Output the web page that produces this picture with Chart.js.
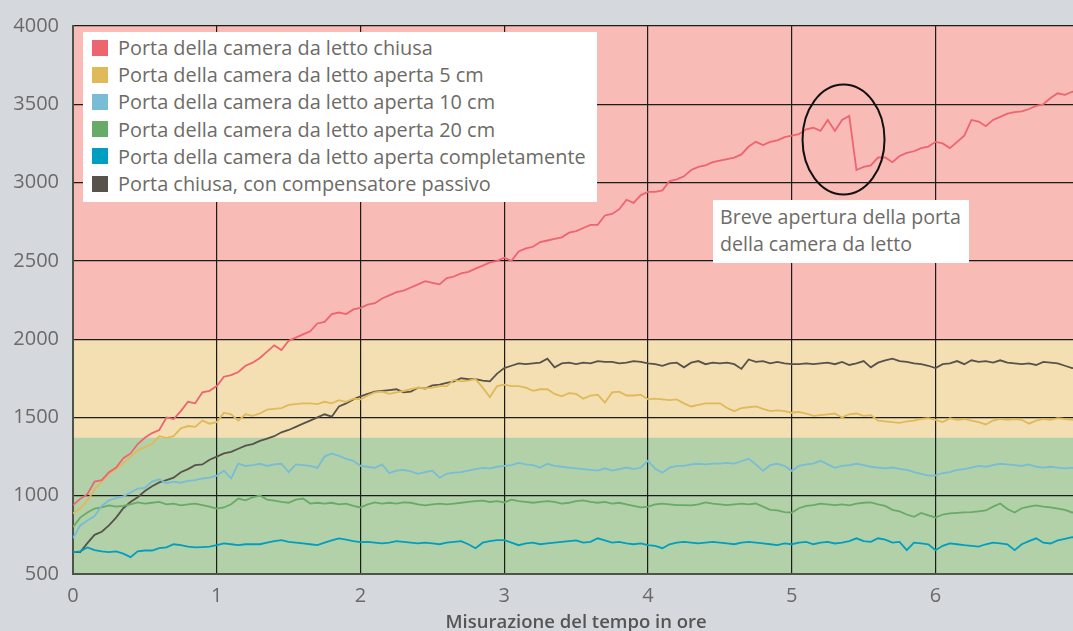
<!DOCTYPE html>
<html>
<head>
<meta charset="utf-8">
<script src="https://cdn.jsdelivr.net/npm/chart.js@4.4.0/dist/chart.umd.min.js"></script>
<style>
  html, body { margin: 0; padding: 0; background: #d5d9dd; overflow: hidden; }
  #wrap { position: relative; width: 1095px; height: 631px; }
  #legend {
    position: absolute; left: 83px; top: 32px; width: 514px; height: 170px;
    background: #fff; box-sizing: border-box; padding: 2px 0 0 9px;
    font-family: 'Open Sans', sans-serif; font-size: 19.9px; color: #6d6b66;
  }
  #legend .item { height: 27.2px; display: flex; align-items: center; white-space: nowrap; }
  #legend .sw { width: 16px; height: 16px; margin-right: 10px; flex: none; }
  #note {
    position: absolute; left: 713px; top: 200px; width: 256px; height: 63px;
    background: #fff; box-sizing: border-box; padding: 3px 0 0 7px;
    font-family: 'Open Sans', sans-serif; font-size: 19.6px; line-height: 27px; color: #6d6b66;
    white-space: nowrap;
  }
</style>
</head>
<body>
<div id="wrap">
  <canvas id="chart" width="1095" height="631"></canvas>
  <div id="legend"></div>
  <div id="note"></div>
</div>
<script>
// time grid, one reading every 3 minutes (0.05 h)
const hours = Array.from({ length: 141 }, (_, i) => +(i * 0.05).toFixed(2));

const seriesLabels = [
  'Porta della camera da letto chiusa',
  'Porta della camera da letto aperta 5 cm',
  'Porta della camera da letto aperta 10 cm',
  'Porta della camera da letto aperta 20 cm',
  'Porta della camera da letto aperta completamente',
  'Porta chiusa, con compensatore passivo'
];
const seriesColors = ['#ec6570', '#e0b95a', '#79bcd6', '#68aa68', '#009ec0', '#57534b'];

const closedDoor = [
  940, 980, 1010, 1090, 1100, 1150, 1180, 1240, 1270, 1330,
  1370, 1400, 1420, 1500, 1490, 1540, 1600, 1590, 1660, 1670,
  1700, 1760, 1770, 1790, 1830, 1850, 1880, 1920, 1960, 1930,
  1990, 2010, 2030, 2050, 2100, 2110, 2160, 2170, 2160, 2190,
  2200, 2220, 2230, 2260, 2280, 2300, 2310, 2330, 2350, 2370,
  2360, 2350, 2390, 2400, 2420, 2430, 2450, 2470, 2490, 2500,
  2520, 2500, 2560, 2580, 2590, 2620, 2630, 2640, 2650, 2680,
  2690, 2710, 2730, 2730, 2790, 2800, 2830, 2890, 2870, 2920,
  2940, 2940, 2950, 3010, 3020, 3040, 3080, 3100, 3110, 3130,
  3140, 3150, 3160, 3180, 3230, 3260, 3240, 3260, 3270, 3290,
  3300, 3310, 3340, 3350, 3330, 3400, 3330, 3400, 3425, 3080,
  3100, 3110, 3160, 3160, 3130, 3170, 3190, 3200, 3220, 3230,
  3260, 3250, 3220, 3260, 3300, 3400, 3390, 3360, 3400, 3420,
  3440, 3450, 3455, 3470, 3490, 3500, 3540, 3570, 3560, 3580,
  3590
];
const open5cm = [
  887, 920, 970, 1040, 1090, 1140, 1170, 1210, 1250, 1290,
  1310, 1330, 1380, 1370, 1380, 1430, 1445, 1440, 1480, 1460,
  1470, 1530, 1520, 1480, 1520, 1510, 1525, 1550, 1555, 1560,
  1580, 1585, 1590, 1590, 1585, 1600, 1590, 1610, 1600, 1620,
  1615, 1640, 1660, 1665, 1650, 1660, 1670, 1680, 1690, 1685,
  1690, 1700, 1700, 1740, 1730, 1735, 1745, 1690, 1630, 1700,
  1710, 1700, 1700, 1690, 1670, 1680, 1680, 1650, 1635, 1655,
  1650, 1620, 1640, 1645, 1595, 1660, 1665, 1640, 1640, 1645,
  1615, 1620, 1615, 1610, 1615, 1590, 1570, 1580, 1590, 1590,
  1590, 1560, 1540, 1560, 1565, 1570, 1555, 1540, 1545, 1540,
  1530, 1535, 1525, 1510, 1515, 1520, 1525, 1500, 1520, 1525,
  1510, 1515, 1480, 1475, 1470, 1465, 1475, 1480, 1490, 1495,
  1485, 1470, 1495, 1485, 1490, 1480, 1470, 1455, 1480, 1490,
  1485, 1490, 1485, 1460, 1480, 1490, 1485, 1495, 1490, 1485,
  1490
];
const open10cm = [
  730, 810, 842, 870, 935, 970, 985, 995, 1020, 1045,
  1050, 1090, 1105, 1080, 1090, 1083, 1095, 1100, 1110, 1115,
  1128, 1160, 1110, 1205, 1190, 1195, 1204, 1190, 1200, 1204,
  1150, 1200, 1195, 1190, 1178, 1250, 1270, 1255, 1235, 1223,
  1191, 1185, 1178, 1200, 1145, 1160, 1165, 1155, 1140, 1150,
  1160, 1115, 1140, 1147, 1150, 1160, 1170, 1178, 1175, 1185,
  1191, 1195, 1210, 1200, 1195, 1180, 1204, 1190, 1185, 1180,
  1175, 1170, 1165, 1160, 1175, 1160, 1170, 1180, 1170, 1180,
  1223, 1172, 1147, 1180, 1190, 1191, 1200, 1204, 1200, 1205,
  1205, 1210, 1205, 1220, 1236, 1200, 1159, 1195, 1204, 1190,
  1159, 1190, 1200, 1205, 1223, 1200, 1178, 1190, 1195, 1204,
  1195, 1185, 1180, 1175, 1180, 1172, 1165, 1150, 1140, 1128,
  1130, 1145, 1150, 1165, 1170, 1180, 1191, 1185, 1195, 1204,
  1200, 1195, 1190, 1200, 1185, 1180, 1185, 1180, 1175, 1178,
  1180
];
const open20cm = [
  800, 860, 893, 918, 925, 938, 930, 935, 945, 957,
  950, 955, 960, 945, 950, 938, 945, 950, 940, 930,
  918, 925, 945, 982, 970, 990, 1001, 975, 969, 960,
  955, 975, 982, 950, 955, 950, 955, 945, 950, 935,
  925, 945, 957, 950, 955, 950, 957, 955, 945, 938,
  945, 950, 945, 950, 955, 960, 965, 969, 960, 965,
  957, 975, 965, 960, 955, 960, 965, 960, 950, 955,
  965, 970, 960, 955, 960, 950, 955, 945, 935, 925,
  930, 945, 950, 945, 940, 940, 938, 945, 957, 950,
  945, 940, 945, 950, 945, 950, 930, 910, 906, 895,
  893, 920, 935, 940, 950, 945, 940, 945, 938, 950,
  955, 957, 945, 935, 910, 900, 880, 865, 890, 875,
  861, 880, 887, 890, 893, 895, 900, 906, 930, 950,
  915, 893, 920, 930, 938, 930, 925, 918, 910, 893,
  900
];
const openFull = [
  640, 645, 670, 652, 645, 640, 645, 630, 608, 645,
  650, 650, 665, 670, 690, 684, 675, 670, 672, 675,
  684, 695, 690, 685, 690, 690, 690, 700, 710, 716,
  705, 700, 695, 690, 684, 700, 715, 728, 720, 710,
  703, 705, 700, 695, 700, 710, 705, 700, 695, 700,
  695, 690, 700, 705, 710, 690, 665, 700, 710, 716,
  716, 700, 684, 695, 700, 690, 695, 700, 705, 710,
  715, 700, 705, 728, 715, 700, 705, 695, 690, 695,
  684, 680, 665, 690, 700, 705, 700, 695, 700, 705,
  700, 695, 690, 700, 705, 700, 695, 690, 685, 695,
  690, 700, 705, 690, 700, 705, 695, 700, 710, 728,
  710, 705, 728, 720, 700, 705, 652, 700, 695, 690,
  652, 680, 695, 690, 684, 680, 675, 690, 700, 695,
  690, 652, 690, 710, 728, 700, 695, 715, 725, 735,
  730
];
const passiveVent = [
  640, 640, 697, 750, 770, 810, 860, 920, 960, 990,
  1030, 1060, 1085, 1100, 1115, 1150, 1170, 1195, 1200, 1230,
  1250, 1270, 1280, 1300, 1320, 1330, 1350, 1365, 1380, 1405,
  1420, 1440, 1460, 1480, 1500, 1520, 1505, 1570, 1590, 1615,
  1635, 1650, 1665, 1670, 1675, 1680, 1660, 1665, 1690, 1685,
  1705, 1710, 1720, 1730, 1750, 1745, 1745, 1735, 1730, 1780,
  1815, 1830, 1845, 1840, 1845, 1850, 1875, 1820, 1845, 1850,
  1840, 1850, 1845, 1860, 1855, 1855, 1845, 1850, 1860, 1855,
  1845, 1840, 1830, 1845, 1850, 1820, 1850, 1860, 1840, 1850,
  1845, 1850, 1840, 1810, 1870, 1855, 1860, 1845, 1855, 1845,
  1840, 1840, 1845, 1840, 1845, 1850, 1840, 1855, 1835, 1845,
  1860, 1820, 1850, 1865, 1875, 1860, 1855, 1845, 1840, 1830,
  1815, 1840, 1845, 1860, 1840, 1865, 1855, 1860, 1850, 1865,
  1850, 1845, 1840, 1845, 1835, 1855, 1850, 1845, 1830, 1815,
  1820
];
const seriesValues = [closedDoor, open5cm, open10cm, open20cm, openFull, passiveVent];

// CO2 zones (ppm): [from, to], with their colour
const zoneLimits = [[2000, 4000], [1370, 2000], [500, 1370]];
const zoneColors = ['#f9bbb6', '#f3dfb2', '#b2d1a8'];

const noteLines = ['Breve apertura della porta', 'della camera da letto'];
const notePoint = { x: 5.36, y: 3275 }; // centre of the circled dip

const zonesPlugin = {
  id: 'zones',
  beforeDraw(chart) {
    const { ctx, chartArea: a, scales: { y } } = chart;
    ctx.save();
    zoneLimits.forEach(([lo, hi], i) => {
      ctx.fillStyle = zoneColors[i];
      const top = y.getPixelForValue(hi);
      ctx.fillRect(a.left, top, a.right - a.left, y.getPixelForValue(lo) - top);
    });
    ctx.restore();
  },
  afterDraw(chart) {
    const { ctx, scales: { x, y } } = chart;
    ctx.save();
    ctx.beginPath();
    ctx.ellipse(x.getPixelForValue(notePoint.x), y.getPixelForValue(notePoint.y), 41, 55, 0, 0, Math.PI * 2);
    ctx.lineWidth = 2;
    ctx.strokeStyle = '#111';
    ctx.stroke();
    ctx.restore();
  }
};

const tickFont = { family: "'Open Sans', sans-serif", size: 20 };

new Chart(document.getElementById('chart'), {
  type: 'line',
  data: {
    datasets: seriesValues.map((vals, i) => ({
      label: seriesLabels[i],
      data: vals.map((v, j) => ({ x: hours[j], y: v })),
      borderColor: seriesColors[i],
      borderWidth: 1.8,
      pointRadius: 0,
      tension: 0,
      fill: false
    }))
  },
  options: {
    responsive: false,
    animation: false,
    layout: { padding: { top: 22, right: 15, left: 0, bottom: 0 } },
    plugins: { legend: { display: false }, tooltip: { enabled: false } },
    scales: {
      x: {
        type: 'linear', min: 0, max: 7,
        ticks: { stepSize: 1, color: '#6a6a6a', font: tickFont, padding: 10 },
        grid: { color: '#1c1c1c', lineWidth: 1.2, drawTicks: false },
        border: { color: '#4d5548', width: 2 },
        title: {
          display: true, text: 'Misurazione del tempo in ore', color: '#555',
          font: { family: "'Open Sans', sans-serif", size: 18.5, weight: '600' }, padding: { top: 0, bottom: -3 }
        },
        afterFit(s) { s.height = 57; }
      },
      y: {
        min: 500, max: 4000,
        ticks: { stepSize: 500, color: '#6a6a6a', font: tickFont, padding: 14, callback: v => String(v) },
        grid: { color: '#1c1c1c', lineWidth: 1.2, drawTicks: false },
        border: { color: '#4d5548', width: 2 },
        afterFit(s) { s.width = 73; }
      }
    }
  },
  plugins: [zonesPlugin]
});

// legend and note as html overlays
const legendBox = document.getElementById('legend');
seriesLabels.forEach((lab, i) => {
  const row = document.createElement('div');
  row.className = 'item';
  row.innerHTML = `<span class="sw" style="background:${seriesColors[i]}"></span><span>${lab}</span>`;
  legendBox.appendChild(row);
});
document.getElementById('note').innerHTML = noteLines.join('<br>');
</script>
</body>
</html>
